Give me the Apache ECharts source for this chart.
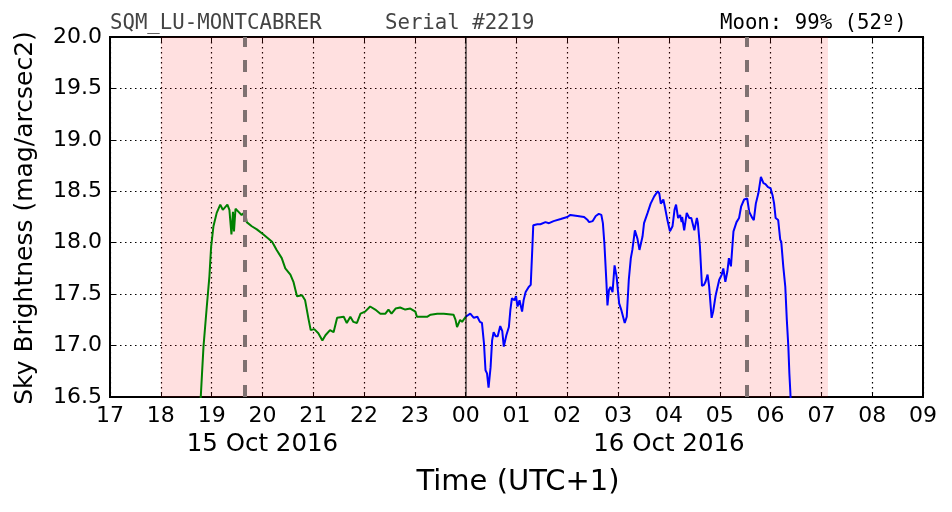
<!DOCTYPE html>
<html><head><meta charset="utf-8">
<script src="https://cdn.jsdelivr.net/npm/echarts@6/dist/echarts.min.js"></script>
<style>html,body{margin:0;padding:0;background:#fff}#c{width:952px;height:512px}</style>
</head><body><div id="c"></div>
<script>
// Time in hours since 00:00 on 15 Oct 2016 (values > 24 are on 16 Oct)
const greenT = [18.77,18.81,18.84,18.905,18.956,18.99,19.036,19.10,19.17,19.22,19.31,19.35,19.39,19.42,19.44,19.47,19.53,19.59,19.66,19.69,19.79,19.89,20.02,20.19,20.28,20.38,20.45,20.55,20.61,20.68,20.78,20.84,20.91,20.95,21.02,21.10,21.18,21.24,21.33,21.40,21.47,21.60,21.66,21.73,21.79,21.86,21.93,22.02,22.12,22.22,22.32,22.42,22.48,22.54,22.62,22.71,22.81,22.91,23.01,23.04,23.14,23.24,23.31,23.44,23.57,23.76,23.80,23.83,23.89,23.93,24.0];
const greenV = [16.35,16.72,16.99,17.38,17.67,17.96,18.16,18.29,18.37,18.32,18.37,18.32,18.08,18.30,18.11,18.33,18.30,18.27,18.30,18.20,18.16,18.13,18.08,18.01,17.93,17.85,17.75,17.69,17.62,17.48,17.49,17.44,17.25,17.15,17.16,17.12,17.05,17.10,17.15,17.13,17.27,17.28,17.22,17.28,17.23,17.22,17.31,17.33,17.38,17.35,17.31,17.31,17.35,17.31,17.36,17.37,17.35,17.36,17.33,17.28,17.28,17.28,17.30,17.31,17.31,17.30,17.25,17.18,17.25,17.23,17.28];
const blueT = [24.0,24.09,24.16,24.23,24.28,24.32,24.36,24.39,24.42,24.45,24.49,24.52,24.55,24.59,24.63,24.68,24.72,24.75,24.80,24.85,24.88,24.91,24.96,24.99,25.02,25.06,25.11,25.14,25.18,25.24,25.28,25.31,25.33,25.41,25.47,25.57,25.64,25.73,25.87,26.0,26.06,26.20,26.33,26.40,26.43,26.50,26.56,26.62,26.67,26.70,26.73,26.77,26.79,26.82,26.85,26.89,26.93,26.97,27.02,27.06,27.13,27.17,27.21,27.25,27.28,27.33,27.38,27.42,27.48,27.51,27.58,27.64,27.71,27.78,27.81,27.84,27.89,27.92,27.97,28.02,28.07,28.11,28.14,28.18,28.22,28.25,28.26,28.30,28.35,28.40,28.44,28.50,28.55,28.57,28.61,28.65,28.69,28.72,28.76,28.79,28.84,28.87,28.92,28.99,29.04,29.07,29.11,29.15,29.18,29.22,29.27,29.33,29.38,29.42,29.48,29.54,29.58,29.64,29.67,29.71,29.76,29.81,29.86,29.90,29.95,30.0,30.04,30.07,30.10,30.15,30.19,30.21,30.25,30.29,30.32,30.35,30.37,30.39,30.41];
const blueV = [17.28,17.31,17.27,17.28,17.23,17.22,17.02,16.76,16.73,16.59,16.79,17.05,17.13,17.09,17.09,17.19,17.14,16.99,17.10,17.18,17.35,17.46,17.44,17.48,17.38,17.44,17.33,17.44,17.52,17.57,17.59,17.93,18.17,18.18,18.18,18.20,18.19,18.21,18.23,18.25,18.27,18.26,18.25,18.22,18.20,18.21,18.26,18.28,18.27,18.19,17.99,17.61,17.39,17.54,17.57,17.52,17.78,17.67,17.41,17.35,17.22,17.28,17.64,17.85,17.93,18.12,18.04,17.93,18.06,18.19,18.29,18.38,18.45,18.50,18.48,18.38,18.42,18.35,18.22,18.11,18.16,18.32,18.37,18.24,18.27,18.20,18.25,18.12,18.29,18.24,18.24,18.12,18.24,18.19,17.96,17.58,17.59,17.62,17.69,17.58,17.27,17.33,17.49,17.64,17.69,17.75,17.62,17.72,17.85,17.77,18.11,18.20,18.24,18.35,18.42,18.43,18.30,18.24,18.22,18.38,18.48,18.64,18.58,18.57,18.54,18.53,18.46,18.38,18.24,18.22,18.03,18.01,17.77,17.57,17.25,16.99,16.73,16.54,16.30];
const nightSpan = [18.0, 31.13];
const twilightMarks = [19.66, 29.54];
const midnight = 24;
const dateLabels = {20: '15 Oct 2016', 28: '16 Oct 2016'};
const titleLeft = 'SQM_LU-MONTCABRER';
const titleMid = 'Serial #2219';
const titleRight = 'Moon: 99% (52º)';
const xLabel = 'Time (UTC+1)';
const yLabel = 'Sky Brightness (mag/arcsec2)';

const zip = (t, v) => t.map((x, i) => [x, v[i]]);
const chart = echarts.init(document.getElementById('c'), null, {renderer: 'canvas'});
const FONT = 'DejaVu Sans';
const dotted = {show: true, lineStyle: {color: '#000', type: [1.5, 3.5], width: 1.2}};
chart.setOption({
  animation: false,
  grid: {left: 110, right: 29, top: 37, bottom: 115, show: true, borderColor: '#000', borderWidth: 2, backgroundColor: 'transparent'},
  xAxis: [{
    type: 'value', min: 17, max: 33, interval: 1,
    axisLine: {show: false},
    axisTick: {show: true, inside: true, length: 5, lineStyle: {color: '#000', width: 1}},
    splitLine: dotted,
    axisLabel: {
      fontFamily: FONT, fontSize: 22, color: '#000', margin: 7, lineHeight: 24,
      formatter: v => {
        const h = String(v % 24).padStart(2, '0');
        return dateLabels[v] ? h + '\n{d|' + dateLabels[v] + '}' : h;
      },
      rich: {d: {fontFamily: FONT, fontSize: 24.5, color: '#000', lineHeight: 30, padding: [3, 0, 0, 0]}}
    }
  }, {
    type: 'value', position: 'top', min: 17, max: 33, interval: 1,
    axisLine: {show: false}, axisLabel: {show: false}, splitLine: {show: false},
    axisTick: {show: true, inside: true, length: 5, lineStyle: {color: '#000'}}
  }],
  yAxis: [{
    type: 'value', min: 16.5, max: 20, interval: 0.5,
    axisLine: {show: false},
    axisTick: {show: true, inside: true, length: 5, lineStyle: {color: '#000'}},
    splitLine: dotted,
    axisLabel: {fontFamily: FONT, fontSize: 22, color: '#000', margin: 8, formatter: v => v.toFixed(1)}
  }, {
    type: 'value', position: 'right', min: 16.5, max: 20, interval: 0.5,
    axisLine: {show: false}, axisLabel: {show: false}, splitLine: {show: false},
    axisTick: {show: true, inside: true, length: 5, lineStyle: {color: '#000'}}
  }],
  series: [
    {
      type: 'line', data: zip(greenT, greenV), showSymbol: false, symbol: 'none', clip: true,
      lineStyle: {color: '#008000', width: 2}, z: 3,
      markArea: {silent: true, itemStyle: {color: 'rgba(255,0,0,0.12)'}, data: [[{xAxis: nightSpan[0]}, {xAxis: nightSpan[1]}]]},
      markLine: {silent: true, symbol: 'none', label: {show: false},
        lineStyle: {color: '#7f7171', width: 4, type: [12, 13]},
        data: twilightMarks.map(x => ({xAxis: x}))}
    },
    {
      type: 'line', data: zip(blueT, blueV), showSymbol: false, symbol: 'none', clip: true,
      lineStyle: {color: '#0000ff', width: 2}, z: 3,
      markLine: {silent: true, symbol: 'none', label: {show: false},
        lineStyle: {color: 'rgba(0,0,0,0.7)', width: 1.5, type: 'solid'},
        data: [{xAxis: midnight}]}
    }
  ],
  graphic: [
    {type: 'text', left: 110, top: 13, style: {text: titleLeft, font: '20.7px "DejaVu Sans Mono"', fill: '#444'}},
    {type: 'text', left: 385, top: 13, style: {text: titleMid, font: '20.7px "DejaVu Sans Mono"', fill: '#444'}},
    {type: 'text', left: 720, top: 13, style: {text: titleRight, font: '20.7px "DejaVu Sans Mono"', fill: '#000'}},
    {type: 'text', x: 518, y: 482, style: {text: xLabel, font: '29px "DejaVu Sans"', fill: '#000', align: 'center', verticalAlign: 'middle'}},
    {type: 'text', x: 25, y: 218, rotation: Math.PI / 2, style: {text: yLabel, font: '25px "DejaVu Sans"', fill: '#000', align: 'center', verticalAlign: 'middle'}}
  ]
});
</script></body></html>
